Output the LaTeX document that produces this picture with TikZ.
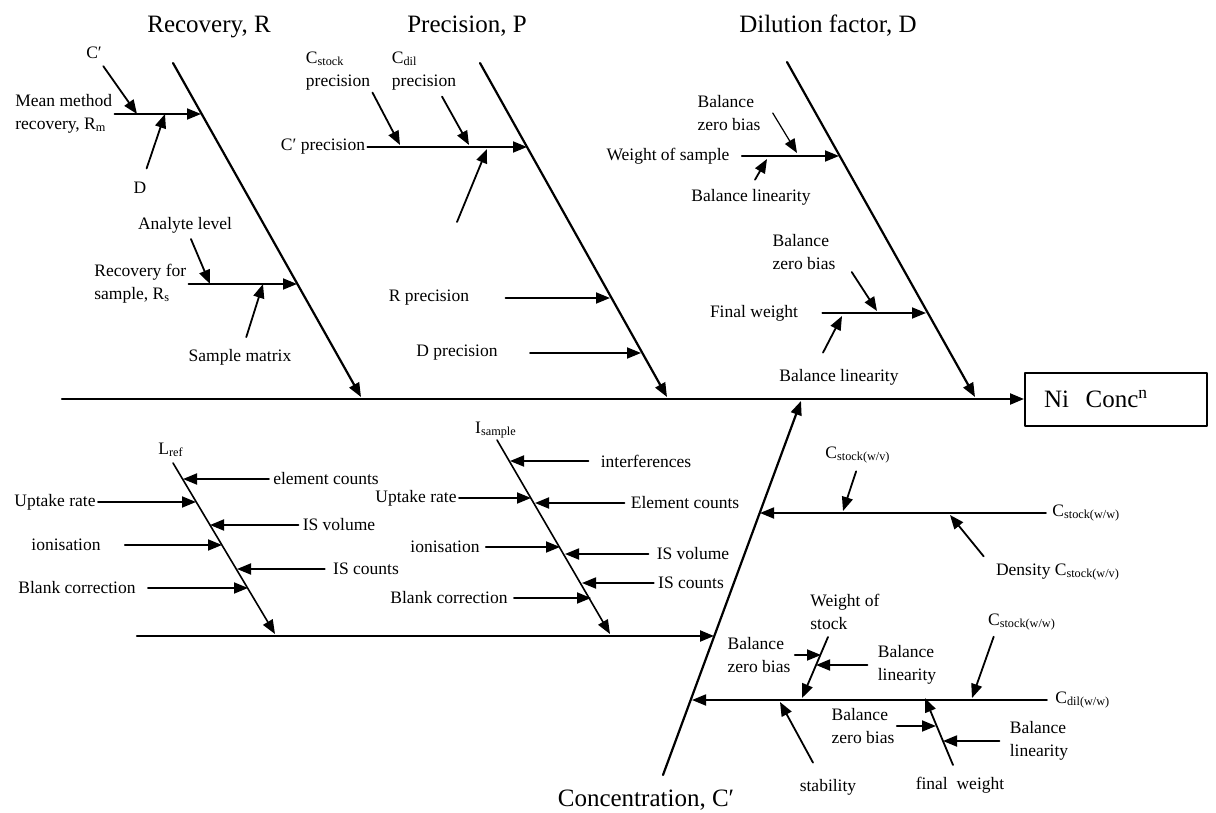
\documentclass[tikz,border=0pt]{standalone}
\usepackage{fontspec}
\setmainfont{Liberation Serif}
\usetikzlibrary{arrows.meta}

\begin{document}
\begin{tikzpicture}[x=0.5pt,y=-0.5pt,line cap=round,line join=round,
    >={Triangle[length=7pt,width=5.5pt]},
    bone/.style={->,line width=1.1pt},
    twig/.style={->,line width=0.9pt},
    lbl/.style={font=\fontsize{8.75}{11.5}\selectfont,inner sep=1pt,align=left},
    head/.style={font=\fontsize{12.5}{15}\selectfont,inner sep=1pt}]
\useasboundingbox (0,0) rectangle (1216,813);

% effect box and spine
\node[head,draw,line width=1pt,anchor=west,minimum height=26.5pt,text width=72pt,inner xsep=9.5pt] (nibox) at (1024,399) {Ni\ \ Conc\textsuperscript{n}};
\coordinate (sp0) at (62,399);
\draw[bone] (sp0) -- (nibox.west);

% titles
\node[head] (rec)  at (209,27) {Recovery, R};
\node[head] (prec) at (467,26) {Precision, P};
\node[head] (dil)  at (828,26) {Dilution factor, D};
\node[head] (conc) at (646,800) {Concentration, C′};

% main bones
\coordinate (Rt) at (173,63);  \coordinate (Rb) at (361,397);
\coordinate (Pt) at (480,63);  \coordinate (Pb) at (667,397);
\coordinate (Dt) at (787,62);  \coordinate (Db) at (975,397);
\coordinate (Cb) at (663,775); \coordinate (Ct) at (801,401);
\draw[bone] (Rt) -- (Rb);
\draw[bone] (Pt) -- (Pb);
\draw[bone] (Dt) -- (Db);
\draw[bone] (Cb) -- (Ct);

% recovery
\node[lbl] (cp) at (94,53) {C′};
\node[lbl,anchor=west] (mmr) at (13,114) {Mean method\\recovery, R\textsubscript{m}};
\node[lbl] (dR) at (140,188) {D};
\node[lbl] (anl) at (185,225) {Analyte level};
\node[lbl,anchor=west] (rfs) at (92,284) {Recovery for\\sample, R\textsubscript{s}};
\node[lbl] (smx) at (240,357) {Sample matrix};
\coordinate (r1) at (201,114); \coordinate (r1a) at (137,114); \coordinate (r1b) at (165,114);
\coordinate (r2) at (297,284); \coordinate (r2a) at (210,284); \coordinate (r2b) at (263,284);
\draw[twig] (mmr) -- (r1);
\draw[twig] (rfs) -- (r2);
\draw[twig,shorten <=3pt] (cp) -- (r1a);
\draw[twig,shorten <=6pt] (dR) -- (r1b);
\draw[twig,shorten <=2pt] (anl) -- (r2a);
\draw[twig,shorten <=5pt] (smx) -- (r2b);

% precision
\node[lbl] (csp) at (338,71) {C\textsubscript{stock}\\precision};
\node[lbl] (cdp) at (424,71) {C\textsubscript{dil}\\precision};
\node[lbl] (cpp) at (323,147) {C′ precision};
\node[lbl] (rpr) at (429,298) {R precision};
\node[lbl] (dpr) at (457,353) {D precision};
\coordinate (p1) at (527,147); \coordinate (p1a) at (400,145); \coordinate (p1b) at (469,145);
\coordinate (p1c) at (487,149); \coordinate (pu0) at (457,222);
\coordinate (p2) at (610,298); \coordinate (p3) at (641,353);
\draw[twig] (cpp) -- (p1);
\draw[twig] (csp.south east) -- (p1a);
\draw[twig] ([shift={(18,4)}]cdp.south) -- (p1b);
\draw[twig] (pu0) -- (p1c);
\draw[twig,shorten <=17pt] (rpr) -- (p2);
\draw[twig,shorten <=15pt] (dpr) -- (p3);

% dilution factor
\node[lbl] (bzb1) at (729,113) {Balance\\zero bias};
\node[lbl] (wos) at (668,156) {Weight of sample};
\node[lbl] (bl1) at (751,197) {Balance linearity};
\node[lbl] (bzb2) at (804,252) {Balance\\zero bias};
\node[lbl] (fw1) at (754,313) {Final weight};
\node[lbl] (bl2) at (839,377) {Balance linearity};
\coordinate (d1) at (839,156); \coordinate (d1a) at (797,153); \coordinate (d1b) at (767,159);
\coordinate (d2) at (926,313); \coordinate (d2a) at (877,311); \coordinate (d2b) at (842,316);
\draw[twig,shorten <=5pt] (wos) -- (d1);
\draw[twig,line width=0.6pt] ([shift={(10,0)}]bzb1.east) -- (d1a);
\draw[twig,shorten <=4pt] (bl1.north) -- (d1b);
\draw[twig,shorten <=11pt] (fw1) -- (d2);
\draw[twig] ([shift={(14,0)}]bzb2.south east) -- (d2a);
\draw[twig] ([shift={(-16,-14)}]bl2.north) -- (d2b);

% concentration: lower left
\coordinate (lw0) at (137,636); \coordinate (lw1) at (714,636);
\draw[bone] (lw0) -- (lw1);
\node[lbl] (lref) at (171,450) {L\textsubscript{ref}};
\node[lbl] (isam) at (496,430) {I\textsubscript{sample}};
\coordinate (Lt) at (173,463); \coordinate (Lb) at (275,634);
\coordinate (It) at (497,440); \coordinate (Ib) at (610,634);
\draw[bone,line width=0.8pt] (Lt) -- (Lb);
\draw[bone,line width=0.8pt] (It) -- (Ib);

\node[lbl] (ec1)  at (326,479) {element counts};
\node[lbl] (up1)  at (55,502)  {Uptake rate};
\node[lbl] (isv1) at (339,525) {IS volume};
\node[lbl] (ion1) at (66,545)  {ionisation};
\node[lbl] (isc1) at (366,569) {IS counts};
\node[lbl] (bc1)  at (77,588)  {Blank correction};
\coordinate (l1) at (183,479); \coordinate (l2) at (196,502); \coordinate (l3) at (210,525);
\coordinate (l4) at (222,545); \coordinate (l5) at (237,569); \coordinate (l6) at (248,588);
\draw[twig,shorten <=1pt] (ec1) -- (l1);
\draw[twig] (up1) -- (l2);
\draw[twig,shorten <=1pt] (isv1) -- (l3);
\draw[twig,shorten <=11pt] (ion1) -- (l4);
\draw[twig,shorten <=3pt] (isc1) -- (l5);
\draw[twig,shorten <=5pt] (bc1) -- (l6);

\node[lbl] (intf) at (646,461) {interferences};
\node[lbl] (up2)  at (416,498) {Uptake rate};
\node[lbl] (ec2)  at (685,503) {Element counts};
\node[lbl] (ion2) at (445,547) {ionisation};
\node[lbl] (isv2) at (693,554) {IS volume};
\node[lbl] (isc2) at (691,583) {IS counts};
\node[lbl] (bc2)  at (449,598) {Blank correction};
\coordinate (i1) at (510,461); \coordinate (i2) at (531,498); \coordinate (i3) at (535,503);
\coordinate (i4) at (560,547); \coordinate (i5) at (565,554); \coordinate (i6) at (582,583);
\coordinate (i7) at (591,598);
\draw[twig,shorten <=5pt] (intf) -- (i1);
\draw[twig] (up2) -- (i2);
\draw[twig,shorten <=2pt] (ec2) -- (i3);
\draw[twig,shorten <=2pt] (ion2) -- (i4);
\draw[twig,shorten <=3pt] (isv2) -- (i5);
\draw[twig,shorten <=1pt] (isc2) -- (i6);
\draw[twig,shorten <=2pt] (bc2) -- (i7);

% concentration: right side
\node[lbl,anchor=west] (csw) at (1050,513) {C\textsubscript{stock(w/w)}};
\node[lbl] (csv) at (858,455) {C\textsubscript{stock(w/v)}};
\node[lbl] (dens) at (1058,572) {Density C\textsubscript{stock(w/v)}};
\coordinate (c1) at (760,513); \coordinate (c1a) at (843,511); \coordinate (c1b) at (950,515);
\draw[twig,shorten <=2pt] (csw.west) -- (c1);
\draw[twig,shorten <=3pt] (csv.south) -- (c1a);
\draw[twig] ([shift={(-10,-5)}]dens.north west) -- (c1b);

\node[lbl,anchor=west] (cdw) at (1053,700) {C\textsubscript{dil(w/w)}};
\node[lbl,anchor=west] (wst) at (808,612) {Weight of\\stock};
\node[lbl] (bzb3) at (759,655) {Balance\\zero bias};
\node[lbl] (bl3) at (907,665) {Balance\\linearity};
\node[lbl] (csw2) at (1022,622) {C\textsubscript{stock(w/w)}};
\node[lbl] (stab) at (828,787) {stability};
\node[lbl] (fw2) at (960,785) {final\ \ weight};
\node[lbl] (bzb4) at (863,726) {Balance\\zero bias};
\node[lbl] (bl4) at (1039,741) {Balance\\linearity};
\coordinate (c2) at (692,700);
\coordinate (ws0) at (828,637); \coordinate (ws1) at (802,698);
\coordinate (fw0) at (953,765); \coordinate (fw1e) at (925,698);
\coordinate (c2a) at (972,698); \coordinate (c2b) at (780,702);
\coordinate (w1) at (821,655); \coordinate (w2) at (816,665);
\coordinate (f1) at (936,726); \coordinate (f2) at (943,741);
\draw[twig,shorten <=3pt] (cdw.west) -- (c2);
\draw[twig] (ws0) -- (ws1);
\draw[twig] (fw0) -- (fw1e);
\draw[twig] ([shift={(8,4)}]csw2.south west) -- (c2a);
\draw[twig] ([shift={(-15,-14)}]stab.north) -- (c2b);
\draw[twig,shorten <=1pt] (bzb3.east) -- (w1);
\draw[twig,shorten <=4pt] (bl3.west) -- (w2);
\draw[twig] (bzb4.east) -- (f1);
\draw[twig,shorten <=4pt] (bl4.west) -- (f2);
\end{tikzpicture}
\end{document}
